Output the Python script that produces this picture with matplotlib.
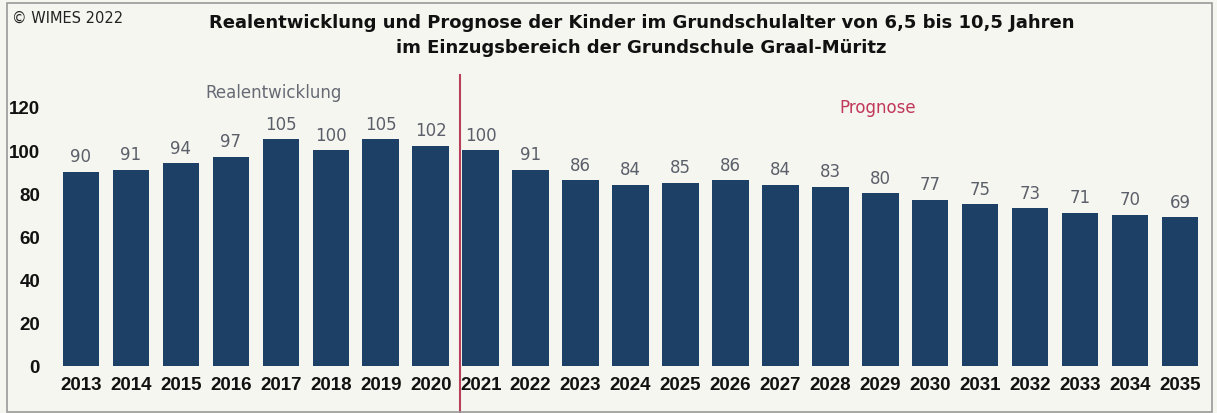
import matplotlib
matplotlib.use("Agg")
import matplotlib.pyplot as plt
from matplotlib.patches import Rectangle

years = list(range(2013, 2036))
values = [90, 91, 94, 97, 105, 100, 105, 102, 100, 91, 86, 84, 85, 86, 84, 83, 80, 77, 75, 73, 71, 70, 69]
yticks = [0, 20, 40, 60, 80, 100, 120]
title = ("Realentwicklung und Prognose der Kinder im Grundschulalter von 6,5 bis 10,5 Jahren\n"
         "im Einzugsbereich der Grundschule Graal-Müritz")

W, H = 1217, 414
bg = "#f6f6f0"
bar_color = "#1d4066"
fig = plt.figure(figsize=(W / 100, H / 100), dpi=100, facecolor=bg)

ax_left, ax_right = 56 / W, 1205 / W
ax_bottom, ax_top = (H - 367) / H, (H - 108) / H
ax = fig.add_axes([ax_left, ax_bottom, ax_right - ax_left, ax_top - ax_bottom])
ax.set_facecolor(bg)

x = list(range(len(years)))
ax.bar(x, values, width=0.73, color=bar_color)
for xi, v in zip(x, values):
    ax.text(xi, v + 3, str(v), ha="center", va="bottom", fontsize=12, color="#5a5f6a")

ax.set_xlim(-0.5, len(years) - 0.5)
ax.set_ylim(0, 120)
ax.set_xticks(x)
ax.set_xticklabels([str(y) for y in years], fontsize=13.5, fontweight="bold", color="#111111",
                   family="Liberation Sans")
ax.set_yticks(yticks)
ax.set_yticklabels([str(t) for t in yticks], fontsize=13.5, fontweight="bold", color="#111111",
                   family="Liberation Sans")
ax.tick_params(axis="both", length=0)
ax.tick_params(axis="x", pad=7)
ax.tick_params(axis="y", pad=11.5)
for s in ax.spines.values():
    s.set_visible(False)

# divider line between real and forecast
divx = 7.58
ax.plot([divx, divx], [-30, 135], color="#b8405a", lw=1.5, clip_on=False)

ax.text(3.85, 127, "Realentwicklung", ha="center", va="center", fontsize=12, color="#666a74")
ax.text(15.95, 120, "Prognose", ha="center", va="center", fontsize=12, color="#c0385a")

fig.text(0.527, 0.966, title, ha="center", va="top", fontsize=13, fontweight="bold",
         color="#111111", linespacing=1.5)
fig.text(12 / W, 1 - 18 / H, "© WIMES 2022", ha="left", va="center", fontsize=10.5, color="#222222")

fig.patches.append(Rectangle((7 / W, 1 / H), (1212 - 7) / W, (410 - 1) / H, transform=fig.transFigure,
                             fill=False, edgecolor="#999999", lw=1.2))

fig.savefig("out.png", dpi=100, facecolor=bg)
